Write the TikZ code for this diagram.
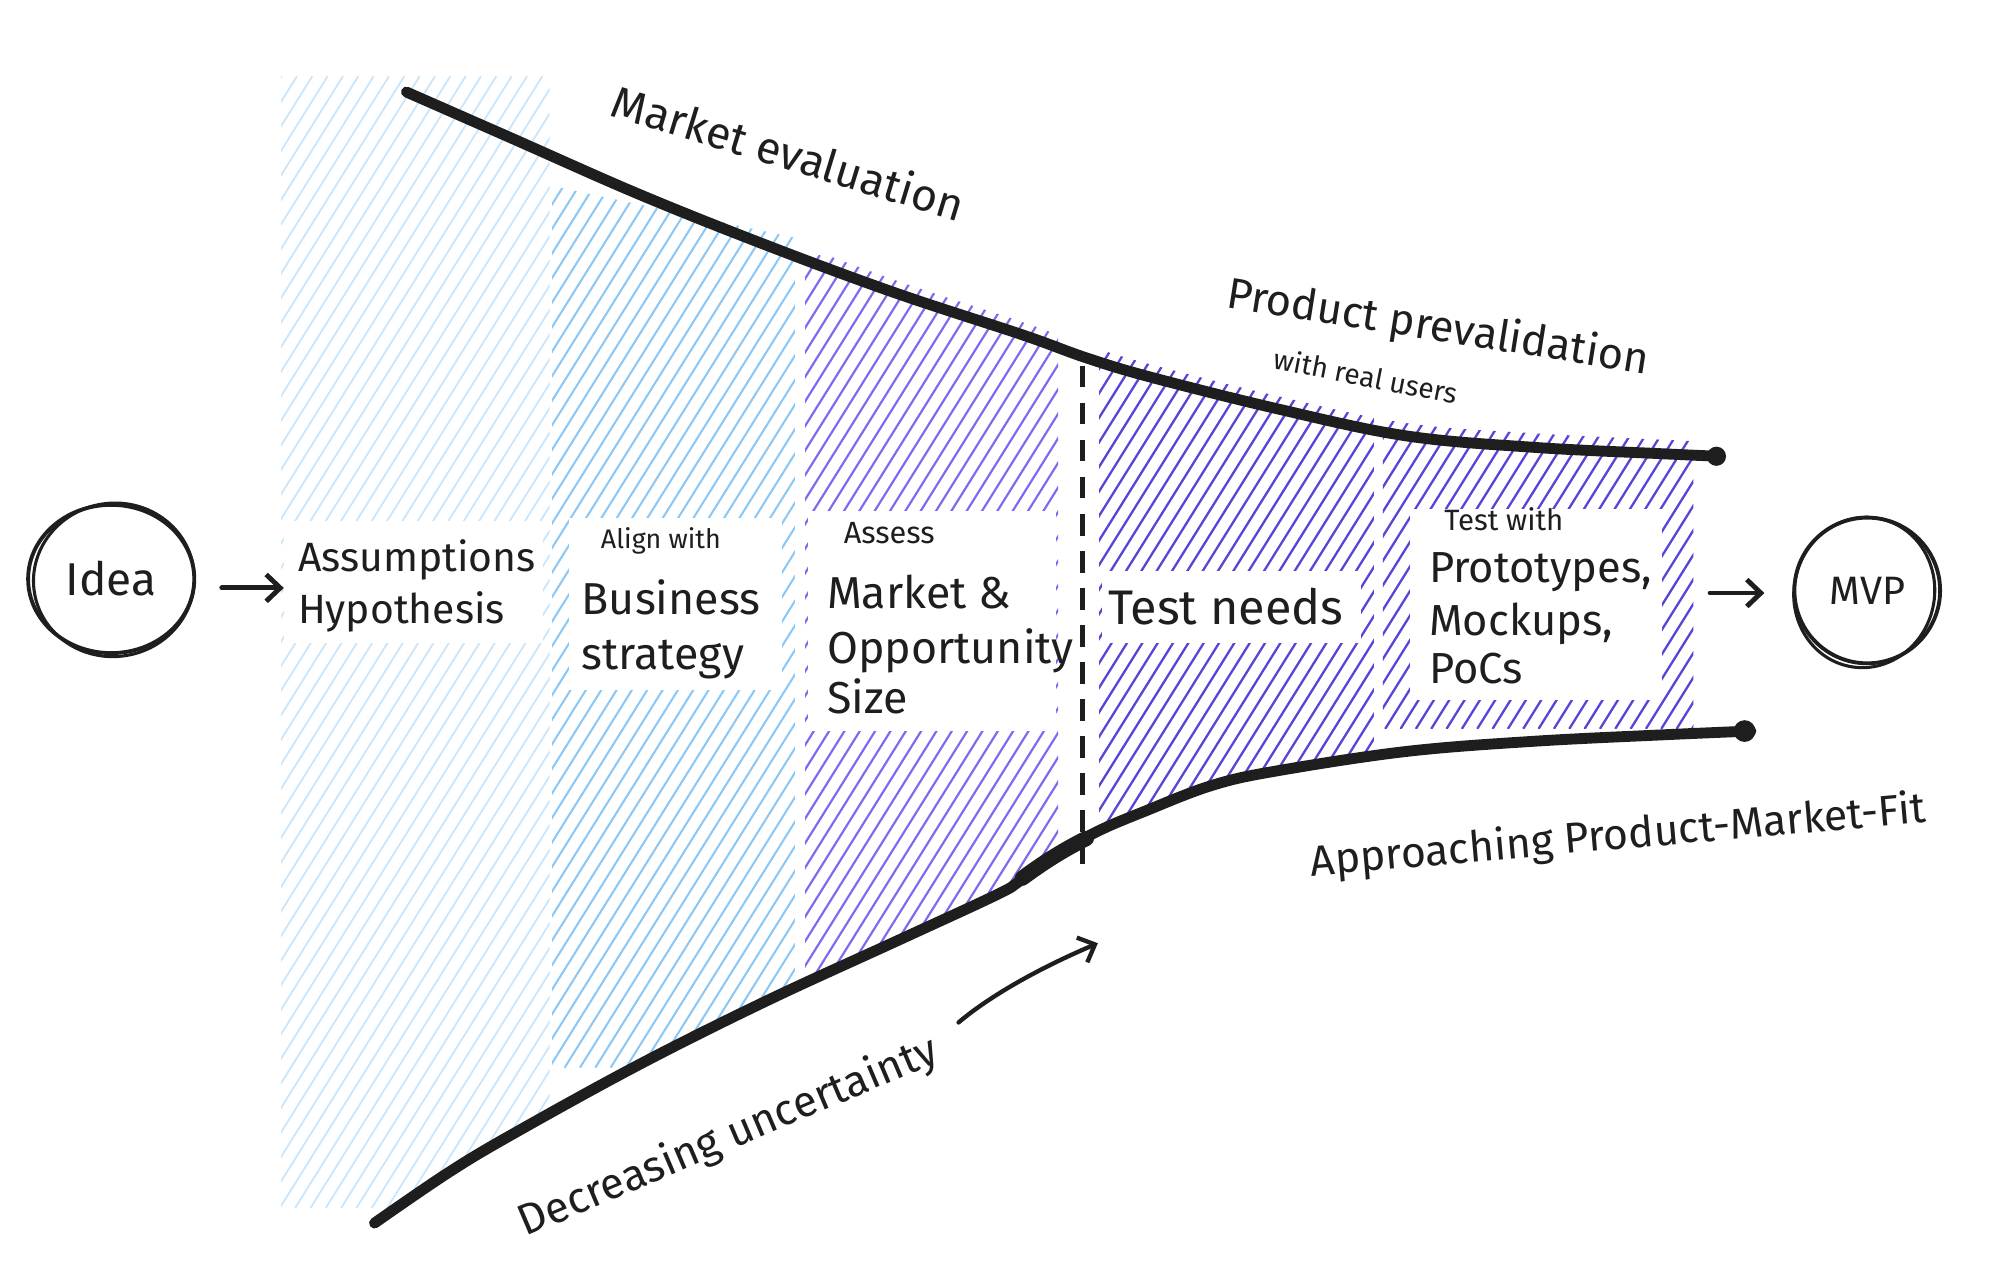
\documentclass[tikz,border=0pt]{standalone}
\usepackage{fontspec}
\setmainfont{Fira Sans}
\usetikzlibrary{arrows.meta,shapes.geometric}
\definecolor{inkc}{HTML}{1E1E1E}
\definecolor{hA}{HTML}{CBE6FB}
\definecolor{hB}{HTML}{8CC8F5}
\definecolor{hC}{HTML}{7C6BF0}
\definecolor{hD}{HTML}{5546D8}
% #1 x0, #2 y0, #3 x1, #4 y1, #5 colour, #6 width, #7 gap
\newcommand\hatchcol[7]{%
  \begin{scope}
    \clip (#1,#2) rectangle (#3,#4);
    \pgfmathsetmacro\hcH{#4-#2}
    \pgfmathsetmacro\hcD{0.625*\hcH}
    \pgfmathtruncatemacro\hcS{#1-\hcD}
    \pgfmathtruncatemacro\hcN{\hcS+#7}
    \foreach \hcT in {\hcS,\hcN,...,#3}
      \draw[draw=#5,line width=#6,line cap=round] (\hcT,#4) -- ++(\hcD,-\hcH);
  \end{scope}}
\begin{document}
\begin{tikzpicture}[x=1pt,y=-1pt,
  txtbig/.style={font=\fontsize{35}{40}\selectfont, text=inkc, inner sep=0pt, anchor=base west},
  txtmid/.style={txtbig, font=\fontsize{33}{38}\selectfont},
  txtsml/.style={txtbig, font=\fontsize{22}{26}\selectfont},
  curvelbl/.style={font=\fontsize{34}{40}\selectfont, text=inkc, inner sep=0pt},
  arr/.style={draw=inkc, line width=3.8pt, line cap=round, -{Straight Barb[length=11pt,width=21pt]}},
  boundary/.style={draw=inkc, line width=8.5pt, line cap=round, line join=round},
  sketch/.style={draw=inkc, line width=3pt},
]
\fill[white] (0,0) rectangle (1568,998);
\useasboundingbox (0,0) rectangle (1568,998);

% ---- hatched phases ----
\begin{scope}
  \clip (0,0) -- (1568,0) -- (1568,572) -- plot[smooth,tension=0.6] coordinates {(1370,572) (1300,575) (1200,580) (1100,588) (1000,603) (950,614) (900,633) (850,655) (800,688) (780,700) (700,737) (600,783) (500,833) (400,888) (350,918) (293,957)} -- (0,957) -- cycle;
  \hatchcol{220}{60}{430}{945}{hA}{1.4pt}{12}
  \begin{scope}
    \clip (430,145) -- (622,186) -- (622,998) -- (430,998) -- cycle;
    \hatchcol{432}{140}{622}{835}{hB}{1.6pt}{12}
  \end{scope}
  \begin{scope}
    \clip (600,0) -- plot[smooth,tension=0.6] coordinates {(600,182) (700,219) (800,252) (850,270) (900,285) (1000,310) (1100,331) (1200,339) (1300,344) (1345,346)} -- (1568,346) -- (1568,998) -- (600,998) -- cycle;
    \hatchcol{630}{200}{828}{770}{hC}{1.7pt}{12}
    \hatchcol{860}{270}{1075}{650}{hD}{1.8pt}{12}
    \hatchcol{1082}{325}{1325}{570}{hD}{1.8pt}{12}
  \end{scope}
\end{scope}

% ---- white label backgrounds ----
\fill[white] (222,408) rectangle (425,503);
\fill[white] (445,405) rectangle (612,540);
\fill[white] (632,400) rectangle (826,572);
\fill[white] (862,447) rectangle (1065,503);
\fill[white] (1103,398) rectangle (1300,548);

% ---- funnel boundaries ----
\draw[boundary] plot[smooth,tension=0.6] coordinates {(318,72) (400,108) (500,152) (600,192) (700,229) (800,262) (850,280) (900,295) (1000,320) (1100,341) (1200,350) (1300,355) (1345,357)};
\fill[inkc] (1343,357) circle (7.5);
\draw[boundary] plot[smooth,tension=0.6] coordinates {(293,957) (350,918) (400,888) (500,833) (600,783) (700,737) (780,700) (800,688) (850,655) (900,633) (950,614) (1000,603) (1100,588) (1200,580) (1300,575) (1370,572)};
\draw[draw=inkc, line width=12pt, line cap=round] (800,687) .. controls (815,676) and (830,666) .. (850,656);
\fill[inkc] (1365,572) circle (8.5);

% ---- gate ----
\coordinate (gateTop) at (847,286);
\coordinate (gateBot) at (847,676);
\draw[draw=inkc, line width=3.2pt, dash pattern=on 17pt off 12pt] (gateTop) -- (gateBot);

% ---- start / end ----
\node[ellipse, sketch, minimum width=130pt, minimum height=116pt, inner sep=0pt, font=\fontsize{36}{40}\selectfont, text=inkc] (idea) at (87,453) {Idea};
\draw[sketch, line width=2.4pt, rotate around={9:(idea.center)}] ([shift={(2,1)}]idea.center) ellipse [x radius=63, y radius=60];
\node[circle, sketch, minimum size=114pt, inner sep=0pt, font=\fontsize{31}{36}\selectfont, text=inkc] (mvp) at (1461,462) {MVP};
\draw[sketch, line width=2.4pt, rotate around={-12:(mvp.center)}] ([shift={(-2,2)}]mvp.center) ellipse [x radius=55, y radius=59];

% ---- phase labels ----
\node[txtmid, font=\fontsize{32}{38}\selectfont] (asm1) at (233,447) {Assumptions};
\node[txtmid, font=\fontsize{32}{38}\selectfont] (asm2) at (233,488) {Hypothesis};
\node[txtsml, font=\fontsize{21}{26}\selectfont] (align) at (470,429) {Align with};
\node[txtbig] (bus1) at (455,481) {Business};
\node[txtbig] (bus2) at (455,524) {strategy};
\node[txtsml, font=\fontsize{24}{28}\selectfont] (assess) at (660,425) {Assess};
\node[txtbig] (mk1) at (647,476) {Market \&};
\node[txtbig] (mk2) at (647,519) {Opportunity};
\node[txtbig] (mk3) at (647,558) {Size};
\node[txtbig, font=\fontsize{38}{42}\selectfont] (tn) at (867,489) {Test needs};
\node[txtsml, font=\fontsize{23}{26}\selectfont] (tw) at (1130,415) {Test with};
\node[txtmid, font=\fontsize{34}{38}\selectfont] (pr1) at (1118,456) {Prototypes,};
\node[txtmid, font=\fontsize{34}{38}\selectfont] (pr2) at (1118,497) {Mockups,};
\node[txtmid, font=\fontsize{34}{38}\selectfont] (pr3) at (1118,535) {PoCs};

% ---- arrows ----
\coordinate (arrowA) at (0,460);
\coordinate (arrowB) at (1338,464);
\draw[arr, shorten <=20pt, shorten >=11pt] (idea.east |- arrowA) -- (asm1.west |- arrowA);
\draw[arr, shorten >=22pt] (arrowB) -- (arrowB -| mvp.west);

% ---- curve labels ----
\node[curvelbl, rotate=-17, font=\fontsize{35}{40}\selectfont] (mkteval) at (617,119) {Market evaluation};
\node[curvelbl, rotate=-9] (prodpre) at (1125,257) {Product prevalidation};
\node[curvelbl, rotate=-11, font=\fontsize{22}{24}\selectfont] (realusers) at (1069,294) {with real users};
\node[curvelbl, rotate=5, font=\fontsize{33.5}{40}\selectfont] (pmf) at (1266,655) {Approaching Product-Market-Fit};
\node[curvelbl, rotate=23] (decr) at (570,890) {Decreasing uncertainty};

% ---- uncertainty arrow ----
\coordinate (du1) at (750,800);
\coordinate (du2) at (859,738);
\draw[arr, line width=3.4pt] (du1) .. controls (770,783) and (805,761) .. (du2);
\end{tikzpicture}
\end{document}
